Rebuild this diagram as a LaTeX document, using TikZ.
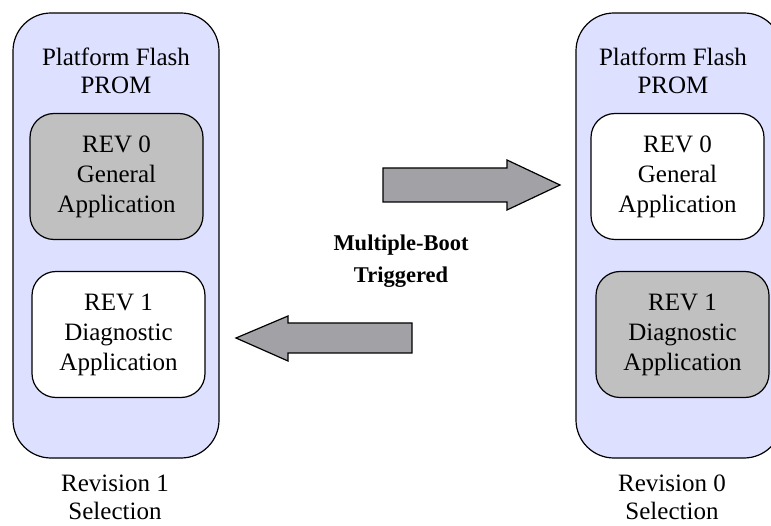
\documentclass[tikz,border=0pt]{standalone}
\usepackage{fontspec}
\setmainfont{Liberation Serif}
\definecolor{promfill}{RGB}{222,224,255}
\definecolor{activefill}{RGB}{192,192,192}
\definecolor{arrowfill}{RGB}{162,161,166}
\tikzset{
  prom/.style={draw, line width=1.2pt, fill=promfill, rounded corners=38pt,
    minimum width=206pt, minimum height=445pt},
  app/.style={draw, line width=1.2pt, rounded corners=24pt, align=center,
    minimum width=173pt, minimum height=126pt, inner sep=0pt,
    font=\fontsize{25}{30}\selectfont},
  txt/.style={align=center, font=\fontsize{25}{28}\selectfont},
  bigarrow/.style={draw, line width=1.2pt, fill=arrowfill, line join=miter}
}
\begin{document}
\begin{tikzpicture}[x=1pt,y=-1pt]
    \clip (0,0) rectangle (771,526);
    % Left PROM (revision 1 selected)
    \node[prom] (promL) at (116,235.5) {};
    \node[txt] (titleL) at (116,71) {Platform Flash\\PROM};
    \node[app, fill=activefill] (revL0) at (116.5,176.5) {REV 0\\General\\Application};
    \node[app, fill=white] (revL1) at (118.5,334.5) {REV 1\\Diagnostic\\Application};
    \node[txt] (selL) at (115,497) {Revision 1\\Selection};
    % Right PROM (revision 0 selected)
    \node[prom] (promR) at (679,235.5) {};
    \node[txt] (titleR) at (673,71) {Platform Flash\\PROM};
    \node[app, fill=white] (revR0) at (677.5,176.5) {REV 0\\General\\Application};
    \node[app, fill=activefill] (revR1) at (682.5,334.5) {REV 1\\Diagnostic\\Application};
    \node[txt] (selR) at (672,497) {Revision 0\\Selection};
    % Trigger label
    \node[align=center, font=\bfseries\fontsize{22.5}{32}\selectfont] (trig) at (401,261) {Multiple-Boot\\Triggered};
    % Block arrows
    \draw[bigarrow] (383,168) -- (507,168) -- (507,160) -- (560,185) -- (507,210) -- (507,202) -- (383,202) -- cycle;
    \draw[bigarrow] (412,323) -- (288,323) -- (288,316) -- (236,338) -- (288,361) -- (288,353) -- (412,353) -- cycle;
\end{tikzpicture}
\end{document}
